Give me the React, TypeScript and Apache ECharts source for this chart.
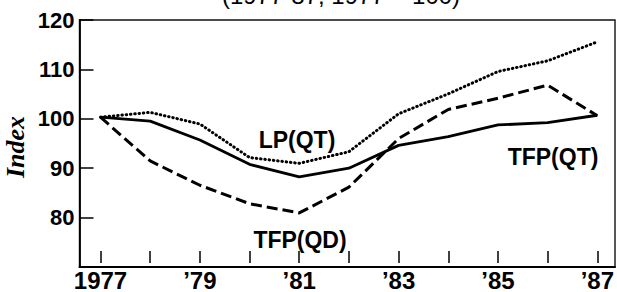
import React, { useEffect, useRef } from "react";
import * as echarts from "echarts";

const years = [1977, 1978, 1979, 1980, 1981, 1982, 1983, 1984, 1985, 1986, 1987];
const tfpQT = [100, 99.2, 95.3, 90.3, 87.7, 89.5, 94.2, 96.0, 98.4, 98.9, 100.4];
const lpQT = [100, 101.0, 98.6, 91.7, 90.5, 92.9, 100.7, 104.8, 109.4, 111.6, 115.5];
const tfpQD = [100, 91.0, 86.0, 82.2, 80.3, 85.6, 95.6, 101.6, 103.9, 106.6, 100.3];
const yTicks = [70, 80, 90, 100, 110, 120];
const seriesNames = ["TFP(QT)", "LP(QT)", "TFP(QD)"];
const titleText = "(1977-87, 1977 = 100)";
const yName = "Index";

const FONT = "'Liberation Sans', Arial, Helvetica, sans-serif";

function xLabel(v: number): string {
  if (v === 1977) return "1977";
  if (v % 2 === 1) return "\u2019" + String(v).slice(2);
  return "";
}

export default function App() {
  const ref = useRef<HTMLDivElement>(null);
  useEffect(() => {
    if (!ref.current) return;
    const chart = echarts.init(ref.current, undefined, { renderer: "svg" });
    const pair = (arr: number[]) => years.map((y, i) => [y, arr[i]]);
    chart.setOption({
      animation: false,
      backgroundColor: "#fff",
      grid: [
        { left: 79.5, right: 2, top: 20, bottom: 25, show: true, borderColor: "#111", borderWidth: 1.4, backgroundColor: "transparent" },
        { left: 100.5, right: 18.5, top: 20, bottom: 25 },
      ],
      xAxis: [
        {
          gridIndex: 0, type: "value", min: 0, max: 1,
          axisLine: { show: true, lineStyle: { color: "#000", width: 1.8 } },
          axisTick: { show: false }, axisLabel: { show: false }, splitLine: { show: false },
        },
        {
          gridIndex: 1, type: "value", min: years[0], max: years[years.length - 1], interval: 1,
          axisLine: { show: false },
          axisTick: { show: true, inside: true, length: 12, lineStyle: { color: "#000", width: 1.5 } },
          axisLabel: {
            show: true, margin: 5, color: "#000", fontFamily: FONT, fontWeight: "bold", fontSize: 24,
            formatter: (v: number) => xLabel(v),
          },
          splitLine: { show: false },
        },
      ],
      yAxis: [
        {
          gridIndex: 0, type: "value", min: yTicks[0], max: yTicks[yTicks.length - 1], interval: 10,
          axisLine: { show: true, lineStyle: { color: "#000", width: 1.8 } },
          axisTick: { show: true, inside: true, length: 14, lineStyle: { color: "#000", width: 1.5 } },
          axisLabel: {
            show: true, margin: 5, color: "#000", fontFamily: FONT, fontWeight: "bold", fontSize: 22,
            formatter: (v: number) => (v === yTicks[0] ? "" : String(v)),
          },
          splitLine: { show: false },
        },
        {
          gridIndex: 1, type: "value", min: yTicks[0], max: yTicks[yTicks.length - 1], show: false,
          splitLine: { show: false },
        },
      ],
      series: [
        {
          name: seriesNames[0], type: "line", xAxisIndex: 1, yAxisIndex: 1, data: pair(tfpQT),
          symbol: "none", lineStyle: { color: "#000", width: 2.8, type: "solid" },
        },
        {
          name: seriesNames[1], type: "line", xAxisIndex: 1, yAxisIndex: 1, data: pair(lpQT),
          symbol: "none", lineStyle: { color: "#000", width: 3, type: [0.5, 3.8], cap: "round" },
        },
        {
          name: seriesNames[2], type: "line", xAxisIndex: 1, yAxisIndex: 1, data: pair(tfpQD),
          symbol: "none", lineStyle: { color: "#000", width: 3, type: [11, 5] },
        },
      ],
      graphic: [
        {
          type: "text", x: 341, y: -5,
          style: { text: titleText, fill: "#000", font: `24px ${FONT}`, align: "center", verticalAlign: "middle" },
        },
        {
          type: "text", x: 15, y: 147, rotation: Math.PI / 2,
          style: { text: yName, fill: "#000", font: `italic bold 26px 'Liberation Serif', 'Times New Roman', serif`, align: "center", verticalAlign: "middle" },
        },
        {
          type: "text", x: 297, y: 140,
          style: { text: seriesNames[1], fill: "#000", font: `bold 23px ${FONT}`, align: "center", verticalAlign: "middle" },
        },
        {
          type: "text", x: 553, y: 157,
          style: { text: seriesNames[0], fill: "#000", font: `bold 23px ${FONT}`, align: "center", verticalAlign: "middle" },
        },
        {
          type: "text", x: 300, y: 240,
          style: { text: seriesNames[2], fill: "#000", font: `bold 23px ${FONT}`, align: "center", verticalAlign: "middle" },
        },
      ],
    });
    return () => chart.dispose();
  }, []);
  return (
    <div
      ref={ref}
      style={{ position: "fixed", left: 0, top: 0, width: 617, height: 292, background: "#fff" }}
    />
  );
}
